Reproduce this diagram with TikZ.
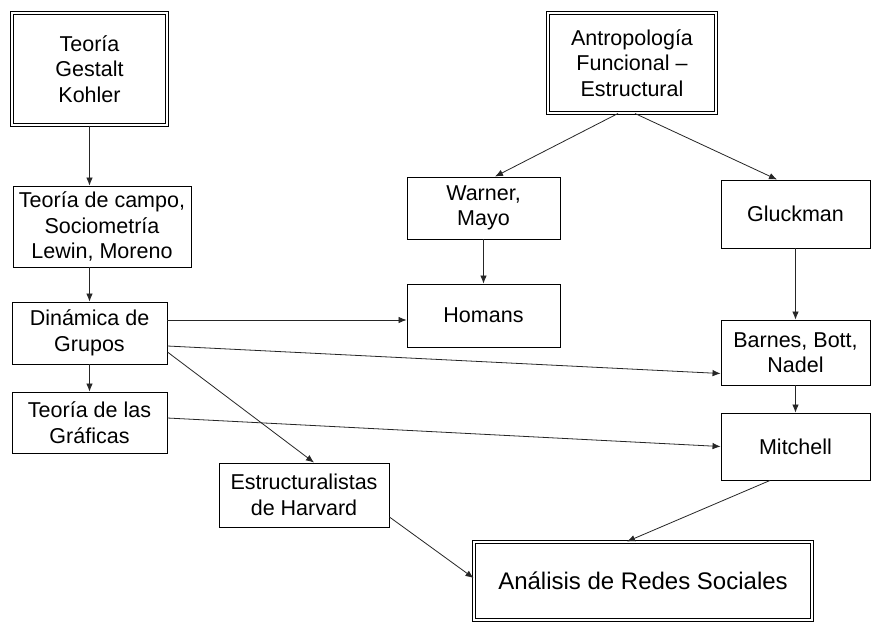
\documentclass[tikz,border=0pt]{standalone}
\usepackage{fontspec}
\setmainfont{Liberation Sans}
\usetikzlibrary{arrows.meta}
\begin{document}
\begin{tikzpicture}[x=1pt,y=-1pt,
  every node/.style={font=\fontsize{21.5}{25.5}\selectfont, align=center, inner sep=0pt},
  box/.style={draw=black, line width=0.9pt, rectangle, fill=white},
  dbox/.style={draw=black, double=white, double distance=2pt, line width=1pt, rectangle, fill=white},
  link/.style={draw=black!85, line width=0.8pt, -{Latex[length=8pt,width=6.5pt]}}]
\fill[white] (0,0) rectangle (878,622);
\useasboundingbox (0,0) rectangle (878,622);

% left column
\node[dbox, minimum width=155pt, minimum height=112pt] (gest) at (89.5,69) {Teoría\\Gestalt\\Kohler};
\node[box, minimum width=178pt, minimum height=81pt] (campo) at (102,226.5) {Teoría de campo,\\Sociometría\\Lewin, Moreno};
\node[box, minimum width=155pt, minimum height=62pt] (din) at (89.5,333) {Dinámica de\\Grupos};
\node[box, minimum width=155pt, minimum height=61pt] (graf) at (89.5,422.5) {Teoría de las\\Gráficas};
\node[box, minimum width=170pt, minimum height=64pt] (estr) at (304,495) {Estructuralistas\\de Harvard};

% middle and right columns
\node[dbox, minimum width=168pt, minimum height=100pt] (antr) at (632,63) {Antropología\\Funcional –\\Estructural};
\node[box, minimum width=153pt, minimum height=62pt] (warn) at (483.5,208) {Warner,\\Mayo};
\node[box, minimum width=153pt, minimum height=63pt] (hom) at (483.5,315.5) {Homans};
\node[box, minimum width=149pt, minimum height=68pt] (gluck) at (795.5,214) {Gluckman};
\node[box, minimum width=149pt, minimum height=65pt] (barn) at (795.5,352.5) {Barnes, Bott,\\Nadel};
\node[box, minimum width=149pt, minimum height=67pt] (mitch) at (795.5,446.5) {Mitchell};
\node[dbox, minimum width=338pt, minimum height=78pt, font=\fontsize{24}{28}\selectfont] (anal) at (643,581) {Análisis de Redes Sociales};

% connectors
\draw[link] (gest.south) -- (gest.south |- campo.north);
\draw[link] (din.north |- campo.south) -- (din.north);
\draw[link] (din.south) -- (graf.north);
\draw[link] ([yshift=13pt]din.east) -- ([yshift=13pt]din.east -| hom.west);
\draw[link] ([yshift=-13pt]din.east) -- ([yshift=-21pt]barn.west);
\draw[link] ([yshift=-19pt]din.east) -- ([xshift=10pt]estr.north);
\draw[link] ([yshift=4.5pt]graf.east) -- (mitch.west);
\draw[link] ([yshift=-22pt]estr.east) -- ([yshift=3pt]anal.west);
\draw[link] ([xshift=-25.5pt]mitch.south) -- ([xshift=-16pt]anal.north);
\draw[link] ([xshift=-14pt]antr.south) -- ([xshift=11.5pt]warn.north);
\draw[link] ([xshift=3pt]antr.south) -- ([xshift=-18.5pt]gluck.north);
\draw[link] (warn.south) -- (hom.north);
\draw[link] (gluck.south) -- (barn.north);
\draw[link] (barn.south) -- (mitch.north);
\end{tikzpicture}
\end{document}
